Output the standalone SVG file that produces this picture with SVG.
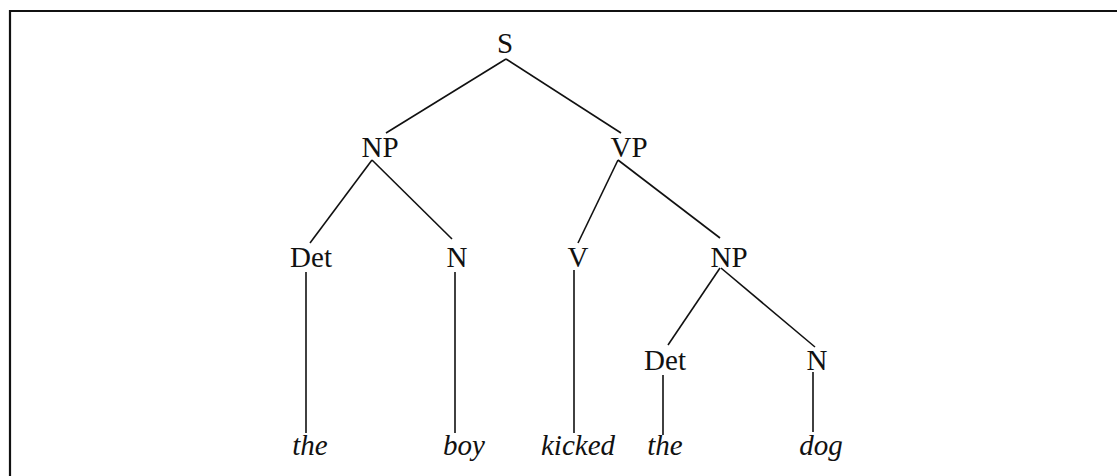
<svg xmlns="http://www.w3.org/2000/svg" width="1117" height="476" viewBox="0 0 1117 476">
<style>
.lbl{font-family:"Liberation Serif","Times New Roman",serif;font-size:29px;fill:#111;text-anchor:middle}
.leaf{font-family:"Liberation Serif","Times New Roman",serif;font-size:29px;font-style:italic;fill:#111;text-anchor:middle}
.edge{stroke:#111;stroke-width:1.6;fill:none}
.frame{stroke:#111;stroke-width:2.2;fill:none}
</style>
<rect width="1117" height="476" fill="#fff"/>
<path class="frame" d="M10 476 V11 H1117"/>
<g id="connectors">
<line class="edge" x1="506" y1="59" x2="386" y2="133"/>
<line class="edge" x1="506" y1="59" x2="621" y2="133"/>
<line class="edge" x1="372" y1="160" x2="310" y2="243"/>
<line class="edge" x1="372" y1="160" x2="452" y2="239"/>
<line class="edge" x1="618" y1="160" x2="578" y2="243"/>
<line class="edge" x1="618" y1="160" x2="720" y2="238"/>
<line class="edge" x1="720" y1="268" x2="668" y2="345"/>
<line class="edge" x1="721" y1="268" x2="815" y2="347"/>
<line class="edge" x1="306" y1="272" x2="306" y2="433"/>
<line class="edge" x1="455" y1="272" x2="455" y2="433"/>
<line class="edge" x1="574" y1="270" x2="574" y2="433"/>
<line class="edge" x1="663" y1="375" x2="663" y2="435"/>
<line class="edge" x1="813" y1="372" x2="813" y2="432"/>
</g>
<g id="n-S"><text class="lbl" x="505" y="53">S</text></g>
<g id="n-NP1"><text class="lbl" x="380" y="157">NP</text></g>
<g id="n-VP"><text class="lbl" x="629" y="157">VP</text></g>
<g id="n-Det1"><text class="lbl" x="311" y="267">Det</text></g>
<g id="n-N1"><text class="lbl" x="457" y="267">N</text></g>
<g id="n-V"><text class="lbl" x="578" y="267">V</text></g>
<g id="n-NP2"><text class="lbl" x="729" y="267">NP</text></g>
<g id="n-Det2"><text class="lbl" x="665" y="370">Det</text></g>
<g id="n-N2"><text class="lbl" x="817" y="370">N</text></g>
<g id="w-the1"><text class="leaf" x="310" y="455">the</text></g>
<g id="w-boy"><text class="leaf" x="464" y="455">boy</text></g>
<g id="w-kicked"><text class="leaf" x="578" y="455">kicked</text></g>
<g id="w-the2"><text class="leaf" x="665" y="455">the</text></g>
<g id="w-dog"><text class="leaf" x="821" y="455">dog</text></g>
</svg>
